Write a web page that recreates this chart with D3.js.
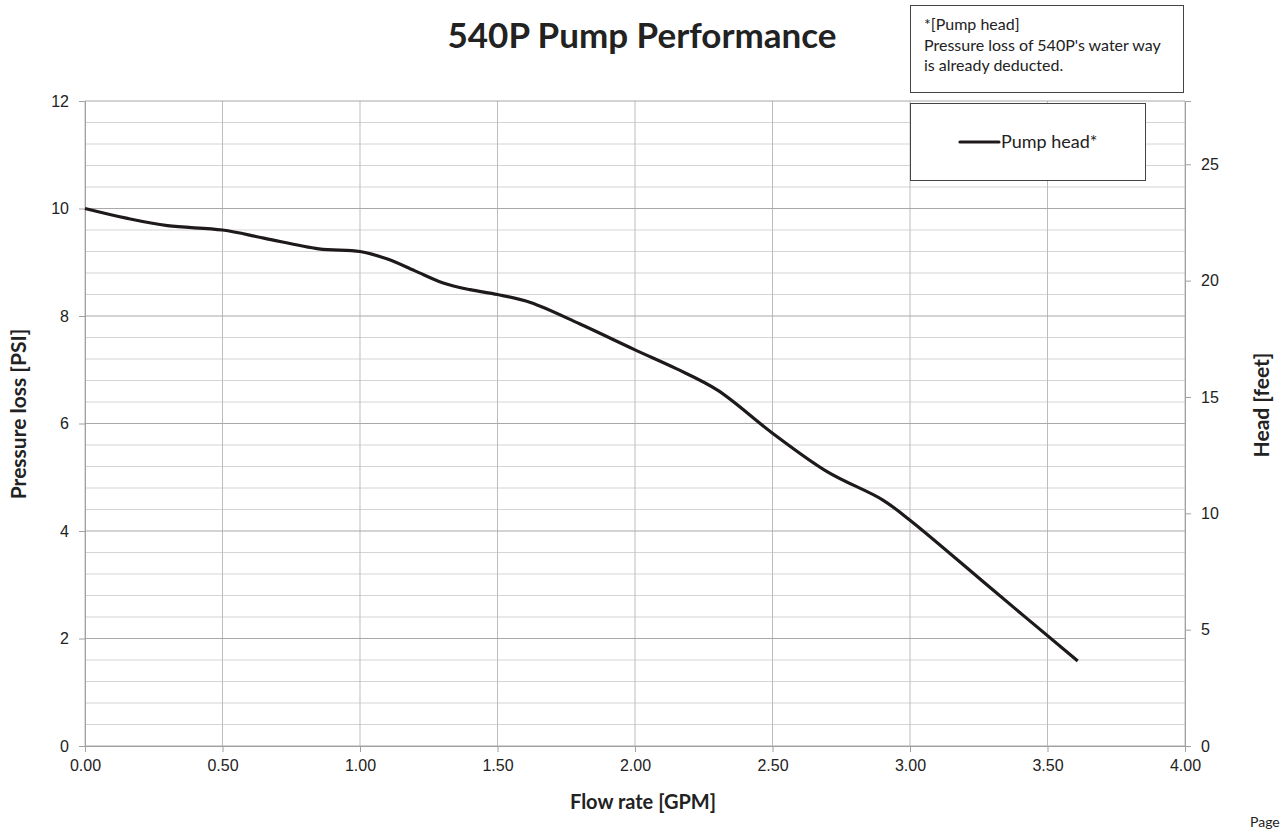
<!DOCTYPE html>
<html>
<head>
<meta charset="utf-8">
<script src="https://cdn.jsdelivr.net/npm/d3@7"></script>
<style>
  body { margin: 0; background: #fff; }
  svg { font-family: Lato, "Open Sans", sans-serif; }
</style>
</head>
<body>
<div id="chart"></div>
<script>
// Data
const flowGpm = [0.00, 0.15, 0.30, 0.50, 0.65, 0.85, 1.00, 1.10, 1.20, 1.30, 1.40, 1.50, 1.62, 1.80, 2.00, 2.15, 2.30, 2.50, 2.70, 2.90, 3.00, 3.30, 3.61];
const headPsi = [10.00, 9.82, 9.68, 9.60, 9.45, 9.25, 9.20, 9.06, 8.84, 8.62, 8.49, 8.40, 8.25, 7.85, 7.37, 7.02, 6.62, 5.82, 5.10, 4.58, 4.20, 2.91, 1.58];
const xTicks = [0, 0.5, 1, 1.5, 2, 2.5, 3, 3.5, 4];
const yTicks = [0, 2, 4, 6, 8, 10, 12];
const feetTicks = [0, 5, 10, 15, 20, 25];
const psiToFeet = 2.31;

// Configuration
const config = {
    width: 1282,
    height: 834,
    plot: { left: 85, right: 1185, top: 101, bottom: 746 }
};

const svg = d3.select('#chart')
    .append('svg')
    .attr('width', config.width)
    .attr('height', config.height);

const xScale = d3.scaleLinear().domain([0, 4]).range([config.plot.left, config.plot.right]);
const yScale = d3.scaleLinear().domain([0, 12]).range([config.plot.bottom, config.plot.top]);
const yFeet = d3.scaleLinear().domain([0, 12 * psiToFeet]).range([config.plot.bottom, config.plot.top]);

// Minor grid lines every 0.4 psi
const minor = d3.range(0, 12.01, 0.4).filter(v => Math.abs(v / 2 - Math.round(v / 2)) > 0.01);
svg.append('g').selectAll('line')
    .data(minor)
    .enter().append('line')
    .attr('x1', config.plot.left).attr('x2', config.plot.right)
    .attr('y1', d => yScale(d)).attr('y2', d => yScale(d))
    .attr('stroke', '#d4d4d4').attr('stroke-width', 1);

// Vertical grid lines
svg.append('g').selectAll('line')
    .data(xTicks)
    .enter().append('line')
    .attr('x1', d => xScale(d)).attr('x2', d => xScale(d))
    .attr('y1', config.plot.top).attr('y2', config.plot.bottom)
    .attr('stroke', '#bdbdbd').attr('stroke-width', 1);

// Major grid lines
svg.append('g').selectAll('line')
    .data(yTicks)
    .enter().append('line')
    .attr('x1', config.plot.left).attr('x2', config.plot.right)
    .attr('y1', d => yScale(d)).attr('y2', d => yScale(d))
    .attr('stroke', '#a8a8a8').attr('stroke-width', 1);

// Axes
function styleAxis(g) {
    g.selectAll('.domain').attr('stroke', '#a0a0a0');
    g.selectAll('.tick line').attr('stroke', '#a0a0a0');
    g.selectAll('.tick text').attr('fill', '#222').style('font-size', '16px');
}

svg.append('g')
    .attr('transform', `translate(0,${config.plot.bottom})`)
    .call(d3.axisBottom(xScale).tickValues(xTicks).tickFormat(d3.format('.2f')).tickSize(6).tickPadding(8))
    .call(styleAxis);

svg.append('g')
    .attr('transform', `translate(${config.plot.left},0)`)
    .call(d3.axisLeft(yScale).tickValues(yTicks).tickSize(6).tickPadding(10))
    .call(styleAxis);

svg.append('g')
    .attr('transform', `translate(${config.plot.right},0)`)
    .call(d3.axisRight(yFeet).tickValues(feetTicks).tickSize(6).tickPadding(10))
    .call(styleAxis);

// Pump curve
const line = d3.line()
    .x((d, i) => xScale(flowGpm[i]))
    .y(d => yScale(d))
    .curve(d3.curveCatmullRom.alpha(0.5));

svg.append('path')
    .datum(headPsi)
    .attr('fill', 'none')
    .attr('stroke', '#1e1a1a')
    .attr('stroke-width', 3.2)
    .attr('stroke-linejoin', 'round')
    .attr('d', line);

// Title
svg.append('text')
    .attr('x', 642).attr('y', 48)
    .attr('text-anchor', 'middle')
    .style('font-size', '35px').style('font-weight', 'bold')
    .attr('fill', '#222')
    .text('540P Pump Performance');

// Axis titles
svg.append('text')
    .attr('x', 643).attr('y', 809)
    .attr('text-anchor', 'middle')
    .style('font-size', '20px').style('font-weight', 'bold')
    .attr('fill', '#222')
    .text('Flow rate [GPM]');

svg.append('text')
    .attr('transform', 'translate(26,414) rotate(-90)')
    .attr('text-anchor', 'middle')
    .style('font-size', '21px').style('font-weight', 'bold')
    .attr('fill', '#222')
    .text('Pressure loss [PSI]');

svg.append('text')
    .attr('transform', 'translate(1269,405) rotate(-90)')
    .attr('text-anchor', 'middle')
    .style('font-size', '21px').style('font-weight', 'bold')
    .attr('fill', '#222')
    .text('Head [feet]');

// Note box
svg.append('rect')
    .attr('x', 910.5).attr('y', 5.5).attr('width', 273).attr('height', 87)
    .attr('fill', '#fff').attr('stroke', '#444').attr('stroke-width', 1);

const note = ['*[Pump head]', "Pressure loss of 540P's water way", 'is already deducted.'];
svg.append('g').selectAll('text')
    .data(note)
    .enter().append('text')
    .attr('x', 924).attr('y', (d, i) => 30 + i * 20.5)
    .style('font-size', '16px')
    .attr('fill', '#222')
    .text(d => d);

// Legend
svg.append('rect')
    .attr('x', 910.5).attr('y', 103.5).attr('width', 235).attr('height', 77)
    .attr('fill', '#fff').attr('stroke', '#444').attr('stroke-width', 1);

svg.append('line')
    .attr('x1', 960).attr('x2', 999).attr('y1', 142).attr('y2', 142)
    .attr('stroke', '#1e1a1a').attr('stroke-width', 3.2).attr('stroke-linecap', 'round');

svg.append('text')
    .attr('x', 1001).attr('y', 148)
    .style('font-size', '18px')
    .attr('fill', '#222')
    .text('Pump head*');

// Page footer (cut off at the edge)
svg.append('text')
    .attr('x', 1250).attr('y', 827)
    .style('font-size', '14px')
    .attr('fill', '#222')
    .text('Page');
</script>
</body>
</html>
